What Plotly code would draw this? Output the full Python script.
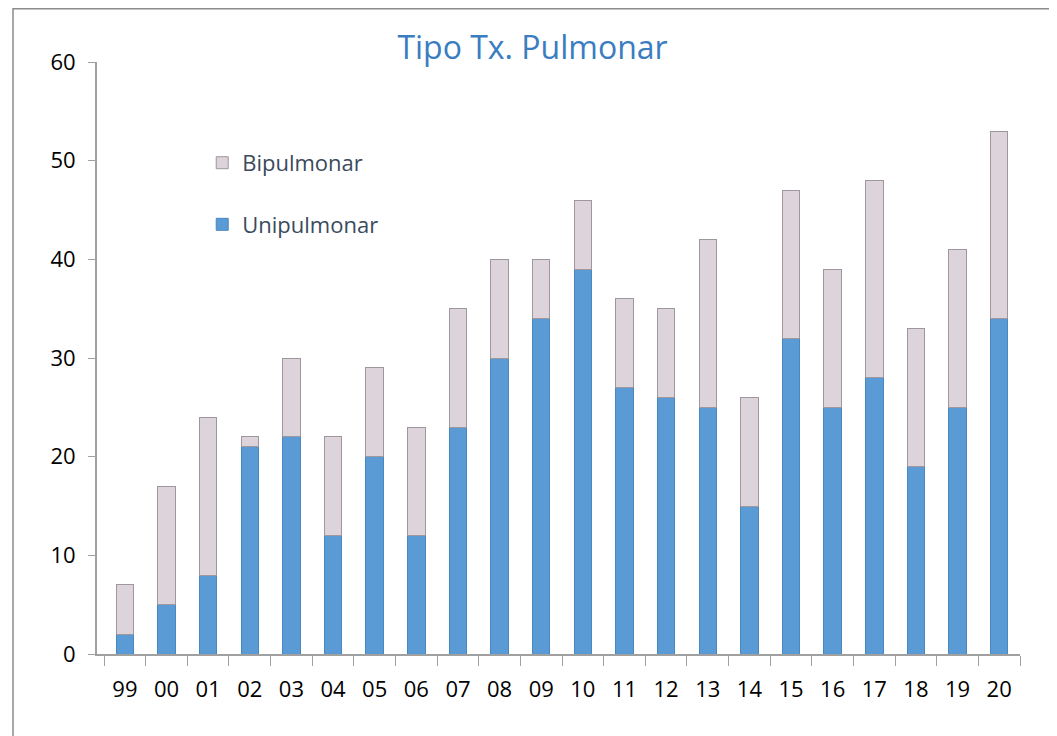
import plotly.graph_objects as go

years = ["99", "00", "01", "02", "03", "04", "05", "06", "07", "08", "09",
         "10", "11", "12", "13", "14", "15", "16", "17", "18", "19", "20"]
unipulmonar = [2, 5, 8, 21, 22, 12, 20, 12, 23, 30, 34, 39, 27, 26, 25, 15, 32, 25, 28, 19, 25, 34]
bipulmonar = [5, 12, 16, 1, 8, 10, 9, 11, 12, 10, 6, 7, 9, 9, 17, 11, 15, 14, 20, 14, 16, 19]

fig = go.Figure()
fig.add_trace(go.Bar(
    x=years, y=unipulmonar, name="Unipulmonar", legendgroup="u", legendrank=2,
    marker=dict(color="#5B9BD5", line=dict(color="#4A86BF", width=1)),
    width=0.42,
))
fig.add_trace(go.Bar(
    x=years, y=bipulmonar, name="Bipulmonar", legendgroup="b", legendrank=1,
    marker=dict(color="#DDD3DB", line=dict(color="#9E979D", width=1)),
    width=0.42,
))

fig.update_layout(
    barmode="stack",
    width=1049, height=728,
    margin=dict(l=89, r=37, t=54, b=82),
    paper_bgcolor="white", plot_bgcolor="white",
    font=dict(family="Open Sans, Liberation Sans, sans-serif", color="black"),
    title=dict(text="Tipo Tx. Pulmonar", x=0.5, xanchor="center", y=0.945, yanchor="middle",
               font=dict(size=32, color="#3A7DC0")),
    legend=dict(x=0.114, y=0.865, xanchor="left", yanchor="top",
                traceorder="grouped", tracegroupgap=30,
                font=dict(size=22, color="#3A4A5C"), bgcolor="rgba(0,0,0,0)"),
    showlegend=True,
)
fig.update_xaxes(
    type="category", range=[-0.67, 21.5],
    showline=True, linecolor="#A0A0A0", linewidth=2,
    ticks="outside", tickson="boundaries", ticklen=10, tickcolor="#A0A0A0", tickwidth=1,
    tickfont=dict(size=22, color="black"), ticklabelstandoff=15,
    showgrid=False, zeroline=False,
)
fig.update_yaxes(
    range=[0, 60], tickvals=[0, 10, 20, 30, 40, 50, 60],
    showline=True, linecolor="#A0A0A0", linewidth=2,
    ticks="outside", ticklen=7, tickcolor="#A0A0A0", tickwidth=1,
    tickfont=dict(size=22, color="black"), ticklabelstandoff=8,
    showgrid=False, zeroline=False,
)
fig.add_shape(type="rect", xref="paper", yref="paper",
              x0=-0.091, x1=1.0347, y0=-0.2, y1=1.09,
              line=dict(color="#8C8C8C", width=1.5), layer="below")

fig.write_html("out.html")
